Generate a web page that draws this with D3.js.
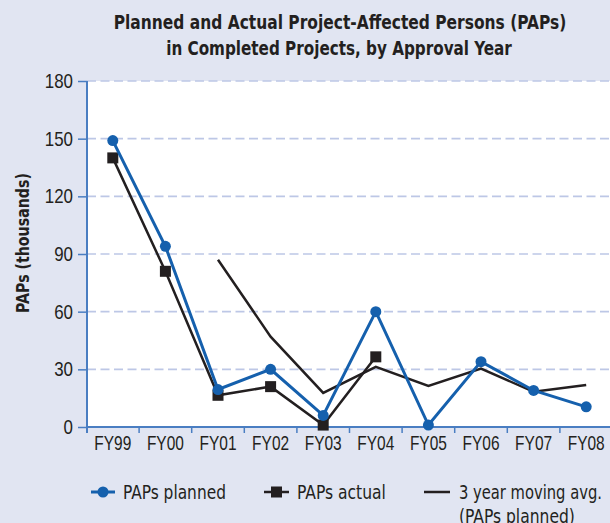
<!DOCTYPE html>
<html>
<head>
<meta charset="utf-8">
<script src="https://d3js.org/d3.v7.min.js"></script>
<style>
  body { margin: 0; background: #e1e5f2; }
  svg { display: block; font-family: "Liberation Sans Narrow", "DejaVu Sans Condensed", sans-serif; }
  text { fill: #231f20; }
</style>
</head>
<body>
<script>

var years = ["FY99", "FY00", "FY01", "FY02", "FY03", "FY04", "FY05", "FY06", "FY07", "FY08"];
var planned = [149, 94, 19.5, 30, 6, 60, 1, 34, 19, 10.5];
var actual = [140, 81, 16.5, 21, 1, 36.5, null, null, null, null];
var movingAvg = [null, null, 87, 47, 17.7, 31.3, 21.4, 30.4, 18.3, 21.8];
var yTicks = [0, 30, 60, 90, 120, 150, 180];

var width = 610, height = 523;
var plot = {left: 87, top: 81, right: 610, bottom: 427};

var svg = d3.select("body").append("svg")
  .attr("width", width)
  .attr("height", height);

// the original uses a condensed face, so squeeze text horizontally to its width
function squeeze(sel, w, base) {
  sel.each(function(d) {
    var n = this.getComputedTextLength();
    var target = typeof w === "function" ? w(d) : w;
    var s = Math.min(1, target / n);
    var x = +this.getAttribute("x") || 0;
    var pre = base || "";
    this.setAttribute("transform", pre + " translate(" + x + ",0) scale(" + s + ",1) translate(" + (-x) + ",0)");
  });
}

// white plot area
svg.append("rect")
  .attr("x", plot.left).attr("y", plot.top)
  .attr("width", plot.right - plot.left)
  .attr("height", plot.bottom - plot.top)
  .attr("fill", "#fff");

var y = d3.scaleLinear().domain([0, 180]).range([plot.bottom, plot.top]);
// last band runs a little past the right edge, like the original
var x = d3.scaleBand().domain(years).range([86.5, 612.5]);
var cx = d => x(d) + x.bandwidth() / 2;

// gridlines
svg.append("g")
  .selectAll("line")
  .data(yTicks.filter(d => d > 0))
  .enter().append("line")
  .attr("x1", plot.left).attr("x2", plot.right)
  .attr("y1", d => y(d)).attr("y2", d => y(d))
  .attr("stroke", "#bdc7e6")
  .attr("stroke-width", 1.6)
  .attr("stroke-dasharray", "9,4.5");

// y axis
var yAxis = svg.append("g")
  .attr("transform", "translate(" + plot.left + ",0)")
  .call(d3.axisLeft(y).tickValues(yTicks).tickSize(9).tickPadding(5));
yAxis.select(".domain").attr("stroke", "#4a7ec2").attr("stroke-width", 2)
  .attr("d", "M0," + (plot.bottom + 6) + "V" + plot.top);
yAxis.selectAll(".tick line").attr("stroke", "#4a7ec2").attr("stroke-width", 1.5);
yAxis.selectAll(".tick text").style("font-size", "20px").attr("fill", "#231f20")
  .call(squeeze, d => String(d).length * 9.4);

// x axis
var xAxis = svg.append("g")
  .attr("transform", "translate(0," + plot.bottom + ")")
  .call(d3.axisBottom(x).tickSize(0).tickPadding(9));
xAxis.select(".domain").attr("stroke", "#4a7ec2").attr("stroke-width", 2)
  .attr("d", "M" + plot.left + ",0H" + plot.right);
xAxis.selectAll(".tick text").style("font-size", "20px").attr("dy", "0.71em").attr("fill", "#231f20")
  .call(squeeze, 37);
xAxis.append("g")
  .selectAll("line")
  .data(years.slice(1))
  .enter().append("line")
  .attr("x1", d => x(d)).attr("x2", d => x(d))
  .attr("y1", 0).attr("y2", 6)
  .attr("stroke", "#4a7ec2").attr("stroke-width", 1.5);

var lineGen = d3.line()
  .defined(d => d[1] != null)
  .x(d => cx(d[0]))
  .y(d => y(d[1]));

var blue = "#1560ad", black = "#231f20";

// moving average
svg.append("path")
  .datum(years.map((k, i) => [k, movingAvg[i]]))
  .attr("fill", "none").attr("stroke", black).attr("stroke-width", 2.5)
  .attr("d", lineGen);

// actual
var actData = years.map((k, i) => [k, actual[i]]);
svg.append("path")
  .datum(actData)
  .attr("fill", "none").attr("stroke", black).attr("stroke-width", 2.5)
  .attr("d", lineGen);
svg.selectAll(".sq")
  .data(actData.filter(d => d[1] != null))
  .enter().append("rect")
  .attr("class", "sq")
  .attr("x", d => cx(d[0]) - 5.5).attr("y", d => y(d[1]) - 5.5)
  .attr("width", 11).attr("height", 11)
  .attr("fill", black);

// planned
var plData = years.map((k, i) => [k, planned[i]]);
svg.append("path")
  .datum(plData)
  .attr("fill", "none").attr("stroke", blue).attr("stroke-width", 3)
  .attr("d", lineGen);
svg.selectAll(".dot")
  .data(plData)
  .enter().append("circle")
  .attr("class", "dot")
  .attr("cx", d => cx(d[0])).attr("cy", d => y(d[1]))
  .attr("r", 5.5)
  .attr("fill", blue);

// title
svg.append("text")
  .attr("x", 340).attr("y", 29)
  .attr("text-anchor", "middle")
  .style("font-size", "19px").style("font-weight", "bold")
  .text("Planned and Actual Project-Affected Persons (PAPs)")
  .call(squeeze, 453);
svg.append("text")
  .attr("x", 339).attr("y", 55)
  .attr("text-anchor", "middle")
  .style("font-size", "19px").style("font-weight", "bold")
  .text("in Completed Projects, by Approval Year")
  .call(squeeze, 346);

// y axis title
svg.append("text")
  .attr("text-anchor", "middle")
  .style("font-size", "18px").style("font-weight", "bold")
  .text("PAPs (thousands)")
  .call(squeeze, 140, "translate(29,243) rotate(-90)");

// legend
var legend = svg.append("g").attr("transform", "translate(0,492)");
legend.append("line").attr("x1", 91).attr("x2", 115).attr("stroke", blue).attr("stroke-width", 3);
legend.append("circle").attr("cx", 103).attr("r", 5.5).attr("fill", blue);
legend.append("text").attr("x", 123).attr("dy", "0.35em").style("font-size", "19px")
  .text("PAPs planned").call(squeeze, 103);

legend.append("line").attr("x1", 264).attr("x2", 289).attr("stroke", black).attr("stroke-width", 2.5);
legend.append("rect").attr("x", 271).attr("y", -5.5).attr("width", 11).attr("height", 11).attr("fill", black);
legend.append("text").attr("x", 297).attr("dy", "0.35em").style("font-size", "19px")
  .text("PAPs actual").call(squeeze, 89);

legend.append("line").attr("x1", 424).attr("x2", 450).attr("stroke", black).attr("stroke-width", 2.5);
legend.append("text").attr("x", 459).attr("dy", "0.35em").style("font-size", "19px")
  .text("3 year moving avg.").call(squeeze, 143);
legend.append("text").attr("x", 459).attr("y", 24).attr("dy", "0.35em").style("font-size", "19px")
  .text("(PAPs planned)").call(squeeze, 116);

</script>
</body>
</html>
